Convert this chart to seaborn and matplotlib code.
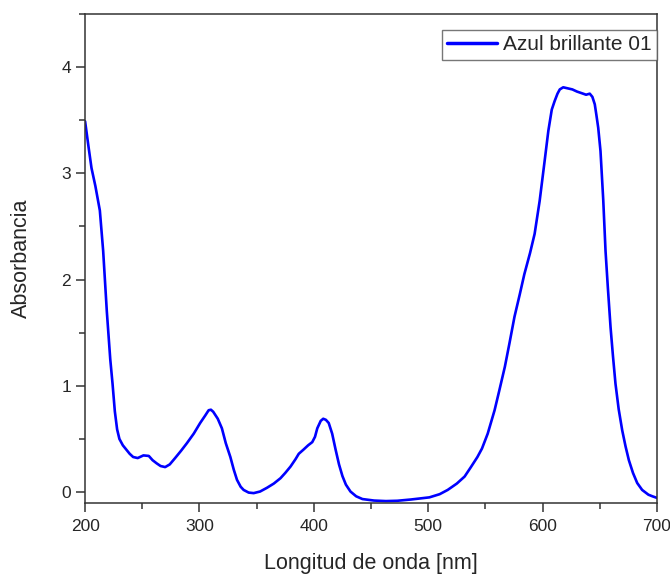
import matplotlib
matplotlib.use("Agg")
import matplotlib.pyplot as plt
import seaborn as sns
import pandas as pd
from matplotlib.ticker import MultipleLocator

wavelength = [200, 203, 205.6, 209, 212.9, 215.8, 219, 222, 224, 226, 228, 230, 233, 236, 239, 242, 246,
              251, 255.7, 259, 262.6, 266, 270, 274, 278.7, 284, 289, 295, 300.6, 305, 308, 310, 312,
              316, 319.6, 323, 327, 330, 332.8, 336, 338.6, 343, 347.4, 353, 359, 365, 370.8, 375,
              379.6, 384, 386.8, 391, 395, 398.6, 401, 403, 406, 408.2, 410.5, 413, 416, 419, 422,
              425, 428, 432, 437, 442.5, 452.6, 463, 473, 485, 501, 510, 517, 525, 531.8, 537, 543,
              547, 552, 558, 562, 567, 571, 575.4, 580, 584, 589, 593, 597.4, 601.8, 605, 608, 610.5,
              613, 615, 618, 622, 626, 630, 635.4, 638, 641.2, 643.5, 645.6, 647, 648.6, 650.6, 653,
              655, 657, 659.4, 661.5, 663.7, 666.5, 669.6, 672.5, 675.4, 679, 682.7, 687, 692.5, 696, 700]
absorbance = [3.49, 3.25, 3.05, 2.88, 2.65, 2.27, 1.70, 1.25, 1.02, 0.76, 0.59, 0.50, 0.44, 0.40, 0.36, 0.33, 0.32,
              0.345, 0.34, 0.30, 0.27, 0.245, 0.235, 0.26, 0.32, 0.39, 0.46, 0.55, 0.65, 0.72, 0.77, 0.775, 0.756,
              0.69, 0.60, 0.46, 0.33, 0.21, 0.115, 0.05, 0.02, -0.005, -0.01, 0.005, 0.04, 0.08, 0.13, 0.18,
              0.24, 0.31, 0.36, 0.40, 0.44, 0.47, 0.52, 0.60, 0.67, 0.69, 0.68, 0.65, 0.55, 0.40, 0.26,
              0.15, 0.07, 0.005, -0.04, -0.066, -0.08, -0.085, -0.082, -0.07, -0.05, -0.02, 0.02, 0.08, 0.146, 0.23, 0.33,
              0.41, 0.55, 0.77, 0.95, 1.18, 1.40, 1.65, 1.86, 2.05, 2.25, 2.43, 2.74, 3.12, 3.40, 3.60, 3.68,
              3.75, 3.79, 3.81, 3.80, 3.79, 3.77, 3.75, 3.74, 3.75, 3.72, 3.65, 3.55, 3.43, 3.21, 2.75,
              2.27, 1.93, 1.55, 1.28, 1.02, 0.78, 0.58, 0.43, 0.30, 0.18, 0.085, 0.02, -0.025, -0.04, -0.055]
series_name = "Azul brillante 01"
x_label = "Longitud de onda [nm]"
y_label = "Absorbancia"

df = pd.DataFrame({"wl": wavelength, "A": absorbance, "serie": series_name})

sns.set_style("ticks")
plt.rcParams["font.family"] = ["Liberation Sans", "DejaVu Sans"]
plt.rcParams["lines.solid_joinstyle"] = "round"

fig = plt.figure(figsize=(6.7, 5.76), dpi=100)
ax = fig.add_axes([0.127, 0.1273, 0.8536, 0.8484])

sns.lineplot(data=df, x="wl", y="A", hue="serie", palette=["#0000ff"], linewidth=1.9, ax=ax, sort=False)

ax.set_xlim(200, 700)
ax.set_ylim(-0.1, 4.5)
ax.xaxis.set_major_locator(MultipleLocator(100))
ax.xaxis.set_minor_locator(MultipleLocator(50))
ax.yaxis.set_major_locator(MultipleLocator(1))
ax.yaxis.set_minor_locator(MultipleLocator(0.5))
ax.tick_params(which="major", direction="out", length=6.5, width=1.1, labelsize=12.5, color="#333333")
ax.tick_params(axis="x", which="major", pad=5)
ax.tick_params(axis="y", which="major", pad=3.5)
ax.tick_params(which="minor", direction="out", length=4, width=1.1, color="#333333")
for s in ax.spines.values():
    s.set_visible(True)
    s.set_linewidth(1.1)
    s.set_color("#333333")

ax.set_xlabel(x_label, fontsize=15.5, labelpad=14)
ax.set_ylabel(y_label, fontsize=15.5, labelpad=21)

leg = ax.legend(loc="upper right", bbox_to_anchor=(1.0, 0.967), fontsize=15, frameon=True,
                fancybox=False, borderpad=0.25, handlelength=2.4, handletextpad=0.3,
                borderaxespad=0)
leg.get_frame().set_edgecolor("#555555")
leg.get_frame().set_linewidth(1.0)
for h in leg.get_lines():
    h.set_linewidth(2.5)

fig.savefig("out.png", dpi=100)
